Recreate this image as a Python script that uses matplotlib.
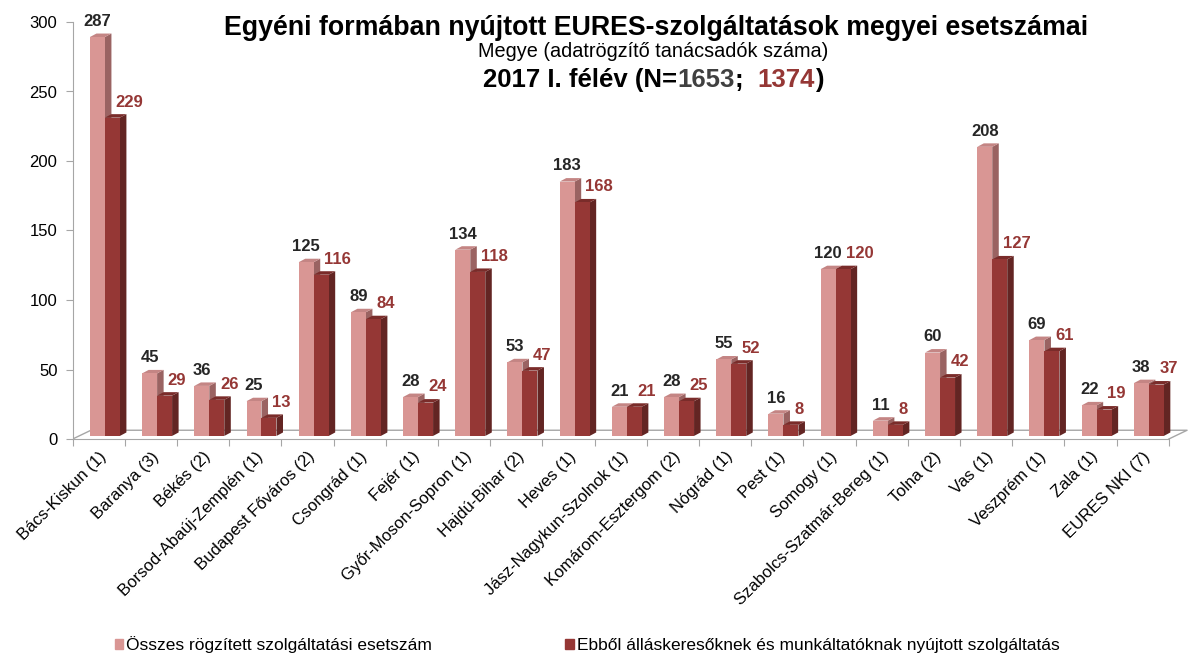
import numpy as np
import matplotlib.pyplot as plt
from matplotlib.patches import Polygon, Patch
from matplotlib.offsetbox import TextArea, HPacker, AnnotationBbox

plt.rcParams['font.family'] = ['Liberation Sans', 'DejaVu Sans']

megyek = ['Bács-Kiskun (1)', 'Baranya (3)', 'Békés (2)', 'Borsod-Abaúj-Zemplén (1)',
          'Budapest Főváros (2)', 'Csongrád (1)', 'Fejér (1)', 'Győr-Moson-Sopron (1)',
          'Hajdú-Bihar (2)', 'Heves (1)', 'Jász-Nagykun-Szolnok (1)', 'Komárom-Esztergom (2)',
          'Nógrád (1)', 'Pest (1)', 'Somogy (1)', 'Szabolcs-Szatmár-Bereg (1)', 'Tolna (2)',
          'Vas (1)', 'Veszprém (1)', 'Zala (1)', 'EURES NKI (7)']
osszes = [287, 45, 36, 25, 125, 89, 28, 134, 53, 183, 21, 28, 55, 16, 120, 11, 60, 208, 69, 22, 38]
ebbol = [229, 29, 26, 13, 116, 84, 24, 118, 47, 168, 21, 25, 52, 8, 120, 8, 42, 127, 61, 19, 37]

lbl_osszes = 'Összes rögzített szolgáltatási esetszám'
lbl_ebbol = 'Ebből álláskeresőknek és munkáltatóknak nyújtott szolgáltatás'

# szinek (elülső lap, oldal, tető)
vilagos = ('#D99694', '#9A6362', '#C48584')
sotet = ('#953735', '#632523', '#7A2C2A')
szurke = '#A6A6A6'

fig = plt.figure(figsize=(11.92, 6.55), dpi=100)
ax = fig.add_axes([72.7 / 1192, 216 / 655, 1117 / 1192, 417 / 655])
ax.set_xlim(0, 21.4)
ax.set_ylim(0, 300)

n = len(megyek)
idx = np.arange(n)
w = 0.287
alap = 2.2        # oszlopok síkja a padló közepén
dx, dy = 0.125, 2.5   # 3D mélység
px, py = 0.35, 6.3    # padló mélysége


def oszlopok(xpos, ertekek, szinek, z):
    bars = ax.bar(xpos, ertekek, width=w, bottom=alap, align='edge',
                  color=szinek[0], zorder=z + 1, linewidth=0)
    for b in bars:
        x0, y0 = b.get_x(), b.get_y()
        x1, y1 = x0 + b.get_width(), y0 + b.get_height()
        oldal = Polygon([(x1, y0), (x1, y1), (x1 + dx, y1 + dy), (x1 + dx, y0 + dy)],
                        closed=True, color=szinek[1], zorder=z, linewidth=0)
        teto = Polygon([(x0, y1), (x1, y1), (x1 + dx, y1 + dy), (x0 + dx, y1 + dy)],
                       closed=True, color=szinek[2], zorder=z, linewidth=0)
        ax.add_patch(oldal)
        ax.add_patch(teto)
    return bars


b1 = oszlopok(idx + 0.33, osszes, vilagos, 2)
b2 = oszlopok(idx + 0.33 + w, ebbol, sotet, 4)

# padló
ax.plot([0, px, 21 + px, 21], [0, py, py, 0], color=szurke, lw=1, zorder=1)

# értékcímkék
for b, v in zip(b1, osszes):
    ax.annotate(str(v), (b.get_x() + w / 2, alap + v), xytext=(0, 8), textcoords='offset points',
                ha='center', va='baseline', fontsize=12, fontweight='bold', color='#262626', zorder=10)
for b, v in zip(b2, ebbol):
    ax.annotate(str(v), (b.get_x() + w / 2 + 0.06, alap + v), xytext=(0, 8), textcoords='offset points',
                ha='left', va='baseline', fontsize=12, fontweight='bold', color='#953735', zorder=10)

# tengelyek
for s in ['top', 'right']:
    ax.spines[s].set_visible(False)
ax.spines['left'].set_color(szurke)
ax.spines['bottom'].set_color(szurke)
ax.spines['bottom'].set_bounds(0, 21)
ax.set_yticks(np.arange(0, 301, 50))
ax.tick_params(axis='y', colors=szurke, labelcolor='black', labelsize=12, length=5, pad=6)
ax.set_xticks(np.arange(0, 22))
ax.set_xticklabels([])
ax.tick_params(axis='x', which='major', colors=szurke, length=5)
ax.set_xticks(idx + 0.6, minor=True)
ax.set_xticklabels(megyek, minor=True, rotation=45, ha='right', va='center',
                   rotation_mode='anchor', fontsize=12)
ax.tick_params(axis='x', which='minor', length=0, pad=11)

# cím
fig.text(0.55, 1 - 28 / 655, 'Egyéni formában nyújtott EURES-szolgáltatások megyei esetszámai',
         ha='center', va='center', fontsize=19.3, fontweight='bold')
fig.text(0.548, 1 - 51.5 / 655, 'Megye (adatrögzítő tanácsadók száma)',
         ha='center', va='center', fontsize=14.3)
darabok = [('2017 I. félév (N=', 'black'), ('1653', '#404040'), (';  ', 'black'),
           ('1374', '#953735'), (')', 'black')]
box = HPacker(children=[TextArea(t, textprops=dict(color=c, fontsize=18.5, fontweight='bold'))
                        for t, c in darabok], sep=0, pad=0, align='baseline')
ab = AnnotationBbox(box, (0.548, 1 - 80 / 655), xycoords='figure fraction',
                    box_alignment=(0.5, 0.5), frameon=False, pad=0)
fig.add_artist(ab)

# jelmagyarázat
fig.legend(handles=[Patch(color=vilagos[0]), Patch(color=sotet[0])],
           labels=[lbl_osszes, lbl_ebbol], loc='center left',
           bbox_to_anchor=(99 / 1192, 1 - 645 / 655), ncol=2, frameon=False,
           fontsize=12.5, handlelength=0.5, handleheight=0.5, handletextpad=0.15,
           columnspacing=7.7)

fig.savefig('out.png', dpi=100)
